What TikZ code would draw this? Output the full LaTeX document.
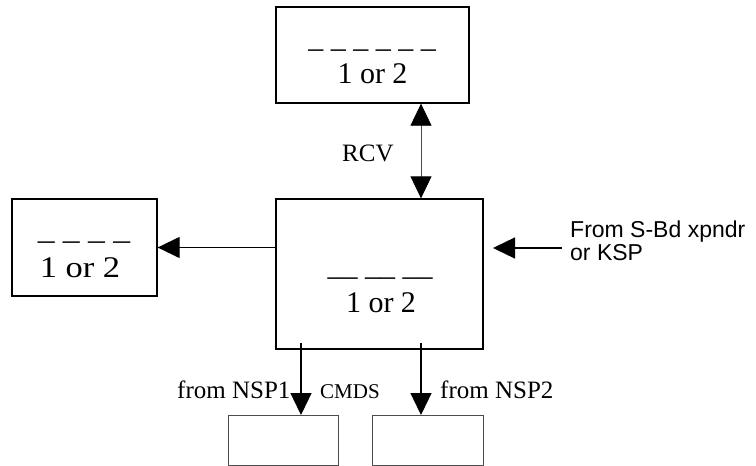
\documentclass[tikz,border=0pt]{standalone}
\usepackage{fontspec}
\setmainfont{Liberation Serif}
\newfontfamily\arialfont{Liberation Sans}
\usetikzlibrary{arrows.meta}
\begin{document}
\begin{tikzpicture}[x=1pt,y=-1pt,
  box/.style={draw,line width=1.3pt,rectangle,inner sep=0pt},
  lowbox/.style={draw=black!70,line width=1pt,rectangle,inner sep=0pt},
  big/.style={font=\fontsize{30}{36}\selectfont,inner sep=0pt,anchor=base},
  lbl/.style={font=\fontsize{25}{30}\selectfont,inner sep=0pt,anchor=base west},
  sml/.style={font=\fontsize{21}{25}\selectfont,inner sep=0pt,anchor=base west},
  sans/.style={font=\arialfont\fontsize{23}{27}\selectfont,inner sep=0pt,anchor=base west},
  conn/.style={line width=1.3pt,-{Triangle[width=21pt,length=22pt]}},
  thin/.style={line width=0.8pt,draw=black!70,{Triangle[width=21pt,length=22pt,color=black]}-{Triangle[width=21pt,length=22pt,color=black]}}]
\useasboundingbox (0,0) rectangle (756,466);
\clip (0,0) rectangle (756,466);
% boxes
\node[box,minimum width=193pt,minimum height=96pt] (top) at (372.5,55) {};
\node[box,minimum width=207pt,minimum height=150pt] (main) at (379.5,274) {};
\node[box,minimum width=145pt,minimum height=97pt] (left) at (84.5,247.5) {};
\node[lowbox,minimum width=110pt,minimum height=50pt] (b1) at (283,440.5) {};
\node[lowbox,minimum width=111pt,minimum height=50pt] (b2) at (427.5,440.5) {};
% box texts
\node[big] (topd) at (372,47) {\_ \_ \_ \_ \_ \_};
\node[big] (topt) at (372.5,83) {1 or 2};
\node[big] (maind) at (380,275) {\_\_ \_\_ \_\_};
\node[big] (maint) at (381,312) {1 or 2};
\node[big,xscale=1.12] (leftd) at (84,239) {\_ \_ \_ \_};
\node[big,xscale=1.15] (leftt) at (80,277) {1 or 2};
% labels
\node[lbl] (rcv) at (342,161) {RCV};
\node[lbl] (nsp1) at (177,398) {from NSP1};
\node[sml] (cmds) at (320,398) {CMDS};
\node[lbl] (nsp2) at (440,398) {from NSP2};
\node[sans] (from1) at (570,237) {From S-Bd xpndr};
\node[sans] (from2) at (570,260) {or KSP};
% coordinates
\coordinate (rcvx) at (421,0);
\coordinate (rin) at (562,248);
\coordinate (rtip) at (493,248);
\coordinate (s1) at (301,343);
\coordinate (s2) at (421,343);
% connectors
\draw[thin] (top.south -| rcvx) -- (main.north -| rcvx);
\draw[conn] (main.west |- left.east) -- (left.east);
\draw[conn] (rin) -- (rtip);
\draw[conn] (s1) -- (b1.north -| s1);
\draw[conn] (s2) -- (b2.north -| s2);
\end{tikzpicture}
\end{document}
